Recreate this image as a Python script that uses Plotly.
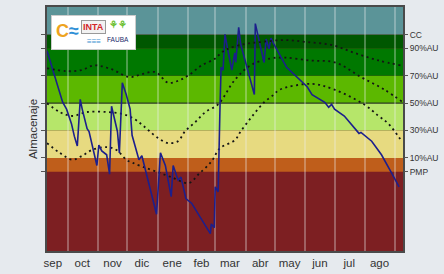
import plotly.graph_objects as go

# ---------------- data ----------------
blue_dates = ["2022-09-10","2022-09-15","2022-09-21","2022-09-26","2022-09-30","2022-10-05","2022-10-08",
              "2022-10-11","2022-10-14","2022-10-16","2022-10-21","2022-10-23","2022-10-31","2022-11-02",
              "2022-11-05","2022-11-10","2022-11-13","2022-11-15","2022-11-21","2022-11-23","2022-11-26",
              "2022-11-30","2022-12-04","2022-12-06","2022-12-13","2022-12-16","2022-12-31","2023-01-04",
              "2023-01-09","2023-01-15","2023-01-17","2023-01-22","2023-01-25","2023-01-30","2023-02-05",
              "2023-02-24","2023-02-25","2023-02-28","2023-03-01","2023-03-04","2023-03-06","2023-03-07",
              "2023-03-09","2023-03-11","2023-03-14","2023-03-18","2023-03-21","2023-03-22","2023-03-25",
              "2023-03-27","2023-04-10","2023-04-11","2023-04-15","2023-04-20","2023-04-22","2023-04-25",
              "2023-04-27","2023-04-30","2023-05-13","2023-05-16","2023-05-24","2023-06-03","2023-06-08",
              "2023-06-21","2023-06-25","2023-06-28","2023-07-01","2023-07-11","2023-07-26","2023-07-28",
              "2023-08-08","2023-08-18","2023-08-28","2023-09-05"]
blue_values = [88.2,76.1,61.9,50.6,45.6,35.0,25.7,18.7,52.7,45.6,31.4,29.3,4.5,19.4,15.1,12.3,-1.9,47.7,
               29.3,13.7,64.8,56.2,45.6,26.5,8.7,11.6,-31.1,13.7,4.5,-18.2,4.5,-6.1,-4.0,-19.6,-23.2,-45.2,
               -38.1,-41.0,-11.1,-14.7,50.6,76.1,74.0,100.2,88.2,74.0,86.7,79.6,105.2,93.1,56.2,108.0,95.2,
               79.6,96.7,89.6,97.4,93.1,76.1,74.0,68.3,61.9,56.2,50.6,47.0,49.1,45.6,40.6,27.9,28.6,22.2,
               12.3,-0.5,-11.1]

high_dates = ["2022-09-10","2022-09-30","2022-10-15","2022-10-28","2022-11-15","2022-12-03","2022-12-16",
              "2022-12-30","2023-01-12","2023-01-24","2023-02-02","2023-02-15","2023-03-01","2023-03-07",
              "2023-03-14","2023-03-31","2023-04-16","2023-05-11","2023-06-03","2023-06-28","2023-07-21",
              "2023-08-15","2023-09-07"]
high_values = [75.4,73.3,74.0,77.5,74.7,69.0,71.1,72.6,64.8,66.9,70.4,77.5,82.5,86.7,89.6,93.1,94.5,96.0,
               94.5,92.4,86.7,81.1,77.5]

mid_dates = ["2022-09-10","2022-09-23","2022-10-06","2022-10-21","2022-11-10","2022-11-26","2022-12-08",
             "2022-12-16","2022-12-23","2023-01-02","2023-01-12","2023-01-22","2023-01-29","2023-02-09",
             "2023-02-19","2023-03-04","2023-03-21","2023-04-06","2023-04-26","2023-05-11","2023-06-06",
             "2023-07-02","2023-07-28","2023-08-21","2023-09-09"]
mid_values = [49.9,43.5,40.6,43.5,43.5,42.1,38.5,34.3,30.0,24.3,20.8,22.2,29.3,36.4,43.5,49.1,66.9,77.5,
              82.5,83.2,81.1,79.6,69.0,59.8,50.6]

low_dates = ["2022-09-10","2022-09-23","2022-10-06","2022-10-16","2022-10-26","2022-11-10","2022-11-20",
             "2022-11-30","2022-12-06","2022-12-16","2022-12-30","2023-01-15","2023-02-02","2023-02-12",
             "2023-02-25","2023-03-06","2023-03-21","2023-03-27","2023-04-08","2023-04-20","2023-04-30",
             "2023-05-06","2023-06-08","2023-07-01","2023-07-31","2023-08-15","2023-08-25","2023-09-07"]
low_values = [20.8,13.7,8.7,11.6,15.8,17.9,15.8,8.7,6.6,3.8,0.2,-4.0,-8.3,-1.9,7.3,17.2,22.9,29.3,40.6,
              50.6,56.2,59.8,64.0,59.8,49.1,40.6,35.0,22.9]

level_values = [0, 10, 30, 50, 70, 90, 100]
level_labels = ["PMP", "10%AU", "30%AU", "50%AU", "70%AU", "90%AU", "CC"]

band_edges = [-57.9, 0, 10, 30, 50, 70, 90, 100, 120.1]
band_colors = ["#7d1f22", "#bf5e1b", "#e7da80", "#b6e66a", "#5cb800", "#007800", "#005700", "#5b9498"]

month_label_dates = ["2022-09-16","2022-10-16","2022-11-16","2022-12-16","2023-01-16","2023-02-15",
                     "2023-03-16","2023-04-16","2023-05-16","2023-06-16","2023-07-16","2023-08-16"]
month_labels = ["sep","oct","nov","dic","ene","feb","mar","abr","may","jun","jul","ago"]
month_starts = ["2022-10-01","2022-11-01","2022-12-01","2023-01-01","2023-02-01","2023-03-01",
                "2023-04-01","2023-05-01","2023-06-01","2023-07-01","2023-08-01","2023-09-01"]

x_range = ["2022-09-10", "2023-09-09"]
y_range = [band_edges[0], band_edges[-1]]

# ---------------- figure ----------------
fig = go.Figure()

dot_style = dict(color="#151515", width=1.8, dash="2px,3.5px")
fig.add_trace(go.Scatter(x=high_dates, y=high_values, mode="lines", line=dot_style, line_shape="spline",
                         hoverinfo="skip", yaxis="y2"))
fig.add_trace(go.Scatter(x=mid_dates, y=mid_values, mode="lines", line=dot_style, line_shape="spline",
                         hoverinfo="skip"))
fig.add_trace(go.Scatter(x=low_dates, y=low_values, mode="lines", line=dot_style, line_shape="spline",
                         hoverinfo="skip"))
fig.add_trace(go.Scatter(x=blue_dates, y=blue_values, mode="lines",
                         line=dict(color="#1c1f8c", width=1.6), hoverinfo="skip"))

shapes = []
for i, col in enumerate(band_colors):
    shapes.append(dict(type="rect", xref="paper", x0=0, x1=1, yref="y",
                       y0=band_edges[i], y1=band_edges[i + 1],
                       fillcolor=col, line=dict(width=0), layer="below"))
shapes.append(dict(type="line", xref="paper", x0=0, x1=1, yref="y",
                   y0=level_values[3], y1=level_values[3],
                   line=dict(color="#2b3a22", width=1.2), layer="between"))

fig.update_layout(
    width=444, height=274, autosize=False,
    margin=dict(l=47, r=37, t=5, b=18),
    paper_bgcolor="#e6eaee", plot_bgcolor="#7d1f22",
    showlegend=False,
    shapes=shapes,
    font=dict(family="Liberation Sans, Arial, sans-serif", color="#333333"),
    xaxis=dict(
        type="date", range=x_range,
        tickmode="array", tickvals=month_label_dates, ticktext=month_labels,
        ticks="", showgrid=False, zeroline=False,
        tickfont=dict(size=11.5, color="#333333"),
        showline=True, linecolor="#4a4a4a", linewidth=1.5, mirror=True,
        minor=dict(tickmode="array", tickvals=month_starts, showgrid=True,
                   gridcolor="rgba(235,235,235,0.32)", gridwidth=1.5, ticks=""),
    ),
    yaxis=dict(
        range=y_range, tickmode="array", tickvals=level_values,
        showticklabels=False, ticks="outside", ticklen=4, tickcolor="#555555",
        showgrid=False, zeroline=False,
        showline=True, linecolor="#4a4a4a", linewidth=1.5, mirror=True,
        title=dict(text="Almacenaje", font=dict(size=11.5, color="#333333"), standoff=1),
    ),
    yaxis2=dict(
        range=y_range, overlaying="y", side="right",
        tickmode="array", tickvals=level_values, ticktext=level_labels,
        ticks="outside", ticklen=4, tickcolor="#555555",
        tickfont=dict(size=8.5, color="#333333"),
        showgrid=False, zeroline=False,
    ),
)

# logo block (text stand-in)
fig.add_annotation(xref="paper", yref="paper", x=0.011, y=0.968, xanchor="left", yanchor="top",
                   text=" ", width=81, height=31, bgcolor="white", showarrow=False,
                   bordercolor="#cccccc", borderwidth=1)
fig.add_annotation(xref="paper", yref="paper", x=0.058, y=0.9, xanchor="center", yanchor="middle",
                   text="<span style='color:#eea320'><b>C</b></span><span style='color:#2f8fd6'><b>≈</b></span>",
                   font=dict(size=18), showarrow=False)
fig.add_annotation(xref="paper", yref="paper", x=0.131, y=0.92, xanchor="center", yanchor="middle",
                   text="<b>INTA</b>", font=dict(size=9, color="#d3262a"), showarrow=False,
                   bgcolor="#f2f2f2", bordercolor="#999999", borderwidth=1, borderpad=1)
fig.add_annotation(xref="paper", yref="paper", x=0.131, y=0.86, xanchor="center", yanchor="middle",
                   text="<b>≡≡≡</b>", font=dict(size=8, color="#3a8fd0"), showarrow=False)
fig.add_annotation(xref="paper", yref="paper", x=0.2, y=0.93, xanchor="center", yanchor="middle",
                   text="<b>⚘⚘</b>", font=dict(size=10, color="#6cc030"), showarrow=False)
fig.add_annotation(xref="paper", yref="paper", x=0.2, y=0.865, xanchor="center", yanchor="middle",
                   text="FAUBA", font=dict(size=6.5, color="#1a2a6a"), showarrow=False)

fig.write_html("out.html", config={"displayModeBar": False},
               post_script="document.body.style.margin='0';document.body.style.background='#e6eaee';")
